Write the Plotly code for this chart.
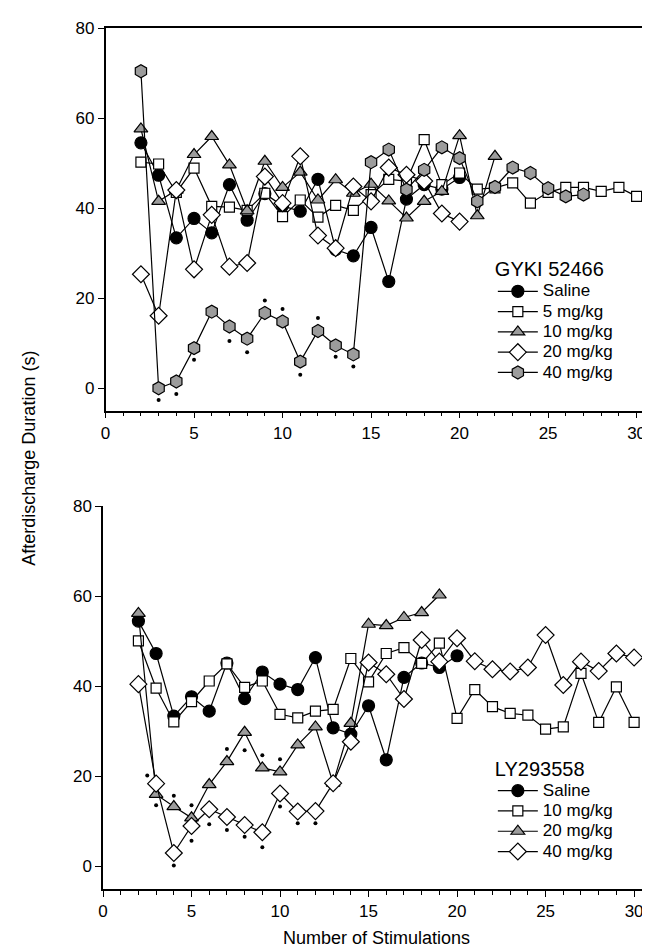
import plotly.graph_objects as go

# ---------------- data: top panel (GYKI 52466) ----------------
saline_x = list(range(2, 21))
saline_y = [54.5, 47.3, 33.4, 37.7, 34.5, 45.2, 37.3, 43.2, 40.5, 39.3, 46.4,
            30.8, 29.4, 35.7, 23.7, 42.0, 45.2, 44.2, 46.8]

gyki5_x = list(range(2, 31))
gyki5_y = [50.2, 49.8, 43.5, 48.9, 40.4, 40.2, 39.5, 43.3, 38.1, 41.8, 38.0,
           40.6, 39.5, 43.0, 46.4, 46.0, 55.2, 45.2, 47.8, 44.2, 44.5, 45.6,
           41.1, 43.5, 44.6, 44.6, 43.7, 44.6, 42.6]

gyki10_x = list(range(2, 23))
gyki10_y = [57.6, 41.5, 44.0, 51.9, 55.9, 49.6, 39.4, 50.4, 44.6, 48.0, 41.8,
            46.3, 43.3, 45.3, 41.6, 37.8, 41.5, 43.7, 56.1, 38.3, 51.5]

gyki20_x = list(range(2, 21))
gyki20_y = [25.3, 16.1, 44.0, 26.4, 38.5, 27.0, 27.8, 47.0, 41.1, 51.5, 33.9,
            31.1, 44.8, 41.5, 49.0, 47.4, 46.0, 38.8, 37.0]

gyki40_x = list(range(2, 28))
gyki40_y = [70.4, 0.0, 1.5, 8.9, 17.0, 13.7, 11.0, 16.7, 14.8, 5.9, 12.7,
            9.5, 7.5, 50.2, 53.0, 44.1, 48.5, 53.5, 51.1, 41.5, 44.7, 49.0,
            47.8, 44.4, 42.6, 43.0]

gyki_sig_x = [3, 4, 5, 7, 8, 9, 10, 11, 12, 13, 14]
gyki_sig_y = [-2.6, -1.3, 6.3, 10.5, 8.0, 19.5, 17.6, 3.0, 15.6, 7.0, 4.8]

# ---------------- data: bottom panel (LY293558) ----------------
ly10_x = list(range(2, 31))
ly10_y = [50.1, 39.6, 32.1, 36.6, 41.2, 45.0, 39.8, 41.2, 33.8, 33.0, 34.5,
          34.9, 46.2, 41.0, 47.3, 48.6, 45.1, 49.6, 32.9, 39.3, 35.5, 34.0,
          33.6, 30.5, 31.0, 42.9, 32.0, 39.9, 32.0]

ly20_x = list(range(2, 20))
ly20_y = [56.2, 16.0, 13.3, 10.8, 18.2, 23.3, 29.8, 21.9, 21.0, 27.0, 31.0,
          18.5, 31.8, 53.8, 53.5, 55.3, 56.4, 60.3]

ly40_x = list(range(2, 31))
ly40_y = [40.5, 18.4, 3.0, 9.0, 12.7, 11.0, 9.2, 7.6, 16.2, 12.2, 12.3,
          18.5, 27.7, 45.3, 42.7, 37.2, 50.3, 45.5, 50.7, 45.6, 43.8, 43.3,
          44.2, 51.4, 40.3, 45.5, 43.4, 47.3, 46.4]

ly_sig_x = [2.5, 3, 4, 4, 5, 5, 6, 7, 7, 8, 8, 9, 9, 10, 10, 11, 12]
ly_sig_y = [20.2, 13.6, 15.7, 0.2, 13.6, 5.7, 9.4, 26.1, 8.1, 25.8, 6.6,
            24.7, 4.3, 23.8, 13.3, 9.6, 9.6]

x_tick_vals = [0, 5, 10, 15, 20, 25, 30]
y_tick_vals = [0, 20, 40, 60, 80]

FONT = "Liberation Sans, Arial, sans-serif"
GRAY = "#9c9c9c"
LINE = dict(color="black", width=1.2)

def label(txt):
    return '<span style="font-size:17px">' + txt + '</span>'

def series(x, y, name, symbol, fill, size, xa, ya, legend):
    return go.Scatter(
        x=x, y=y, name=label(name), mode="lines+markers", line=LINE,
        marker=dict(symbol=symbol, size=size, color=fill,
                    line=dict(color="black", width=1.2)),
        xaxis=xa, yaxis=ya, legend=legend)

fig = go.Figure()
# top panel
fig.add_trace(series(saline_x, saline_y, "Saline", "circle", "black", 12, "x", "y", "legend"))
fig.add_trace(series(gyki5_x, gyki5_y, "5 mg/kg", "square", "white", 10, "x", "y", "legend"))
fig.add_trace(series(gyki10_x, gyki10_y, "10 mg/kg", "triangle-up", GRAY, 12, "x", "y", "legend"))
fig.add_trace(series(gyki20_x, gyki20_y, "20 mg/kg", "diamond", "white", 13, "x", "y", "legend"))
fig.add_trace(series(gyki40_x, gyki40_y, "40 mg/kg", "hexagon", GRAY, 13, "x", "y", "legend"))
fig.add_trace(go.Scatter(x=gyki_sig_x, y=gyki_sig_y, mode="markers",
                         marker=dict(size=4, color="black"), showlegend=False,
                         xaxis="x", yaxis="y"))
# bottom panel
fig.add_trace(series(saline_x, saline_y, "Saline", "circle", "black", 12, "x2", "y2", "legend2"))
fig.add_trace(series(ly10_x, ly10_y, "10 mg/kg", "square", "white", 10, "x2", "y2", "legend2"))
fig.add_trace(series(ly20_x, ly20_y, "20 mg/kg", "triangle-up", GRAY, 12, "x2", "y2", "legend2"))
fig.add_trace(series(ly40_x, ly40_y, "40 mg/kg", "diamond", "white", 13, "x2", "y2", "legend2"))
fig.add_trace(go.Scatter(x=ly_sig_x, y=ly_sig_y, mode="markers",
                         marker=dict(size=4, color="black"), showlegend=False,
                         xaxis="x2", yaxis="y2"))

xaxis_common = dict(range=[0, 30.7], tickvals=x_tick_vals, showline=True,
                    linecolor="black", linewidth=1.5, ticks="outside",
                    ticklen=6, tickwidth=1.2, tickcolor="black",
                    minor=dict(dtick=1, ticks="outside", ticklen=4,
                               tickwidth=1, tickcolor="black"),
                    showgrid=False, zeroline=False,
                    tickfont=dict(size=17, family=FONT, color="black"))
yaxis_common = dict(range=[-5, 80], tickvals=y_tick_vals, showline=True,
                    linecolor="black", linewidth=1.5, ticks="outside",
                    ticklen=6, tickwidth=1.2, tickcolor="black",
                    showgrid=False, zeroline=False,
                    tickfont=dict(size=17, family=FONT, color="black"))

legend_common = dict(xanchor="left", yanchor="top", bgcolor="rgba(0,0,0,0)",
                     borderwidth=0, itemwidth=40,
                     font=dict(size=13.3, family=FONT, color="black"))

fig.update_layout(
    width=650, height=948,
    margin=dict(l=95, r=9, t=20, b=67),
    paper_bgcolor="white", plot_bgcolor="white",
    font=dict(family=FONT, color="black"),
    xaxis=dict(**xaxis_common, domain=[0.0046, 1.0], anchor="y", mirror=True),
    yaxis=dict(**yaxis_common, domain=[0.5555, 1.0], anchor="x"),
    xaxis2=dict(**xaxis_common, domain=[0.0, 0.9954], anchor="y2"),
    yaxis2=dict(**yaxis_common, domain=[0.0, 0.4445], anchor="x2"),
    legend=dict(**legend_common, x=0.714, y=0.742,
                title=dict(text="GYKI 52466", font=dict(size=20, family=FONT), side="top")),
    legend2=dict(**legend_common, x=0.714, y=0.162,
                 title=dict(text="LY293558", font=dict(size=20, family=FONT), side="top")),
    annotations=[
        dict(text="Afterdischarge Duration (s)", xref="paper", yref="paper",
             x=-0.137, y=0.5, textangle=-90, showarrow=False,
             xanchor="center", yanchor="middle",
             font=dict(size=18, family=FONT)),
        dict(text="Number of Stimulations", xref="paper", yref="paper",
             x=0.5, y=-0.057, showarrow=False, xanchor="center", yanchor="middle",
             font=dict(size=18, family=FONT)),
    ],
)

fig.write_html("out.html")
